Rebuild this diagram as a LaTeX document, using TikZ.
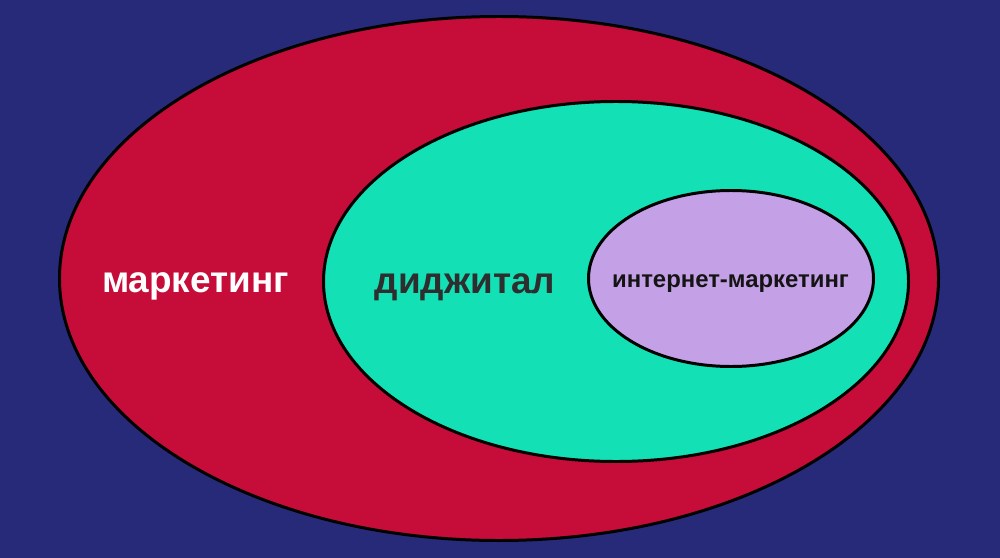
\documentclass[tikz,border=0pt]{standalone}
\usepackage{fontspec}
\setmainfont{Liberation Sans}
\usetikzlibrary{shapes.geometric}

\definecolor{fondBleu}{HTML}{262A78}
\definecolor{rougeM}{HTML}{C60C38}
\definecolor{vertD}{HTML}{14E0B6}
\definecolor{violetI}{HTML}{C4A0E6}

\tikzstyle{ovalNode} = [ellipse, draw=black, line width=1.7pt, inner sep=0pt]
\tikzstyle{bigTxt} = [anchor=base, inner sep=0pt, font=\fontsize{21}{25}\selectfont\bfseries]
\tikzstyle{smallTxt} = [anchor=base, inner sep=0pt, font=\fontsize{13.6}{16}\selectfont\bfseries]

\begin{document}
\begin{tikzpicture}[x=0.2mm, y=-0.2mm]
    \fill[fondBleu] (0,0) rectangle (1000,558);

    \node (marketing)[ovalNode, fill=rougeM, minimum width=175.8mm, minimum height=104.8mm] at (499,278.5) {};
    \node (digital)[ovalNode, fill=vertD, minimum width=117mm, minimum height=72mm] at (616,281.5) {};
    \node (internet)[ovalNode, fill=violetI, minimum width=57mm, minimum height=35.2mm] at (731,278.5) {};

    \node (labMarketing)[bigTxt, text=white] at (195.5,292) {маркетинг};
    \node (labDigital)[bigTxt, text=black!82] at (465,293) {диджитал};
    \node (labInternet)[smallTxt, text=black!92] at (730.5,287) {интернет-маркетинг};

\end{tikzpicture}
\end{document}
